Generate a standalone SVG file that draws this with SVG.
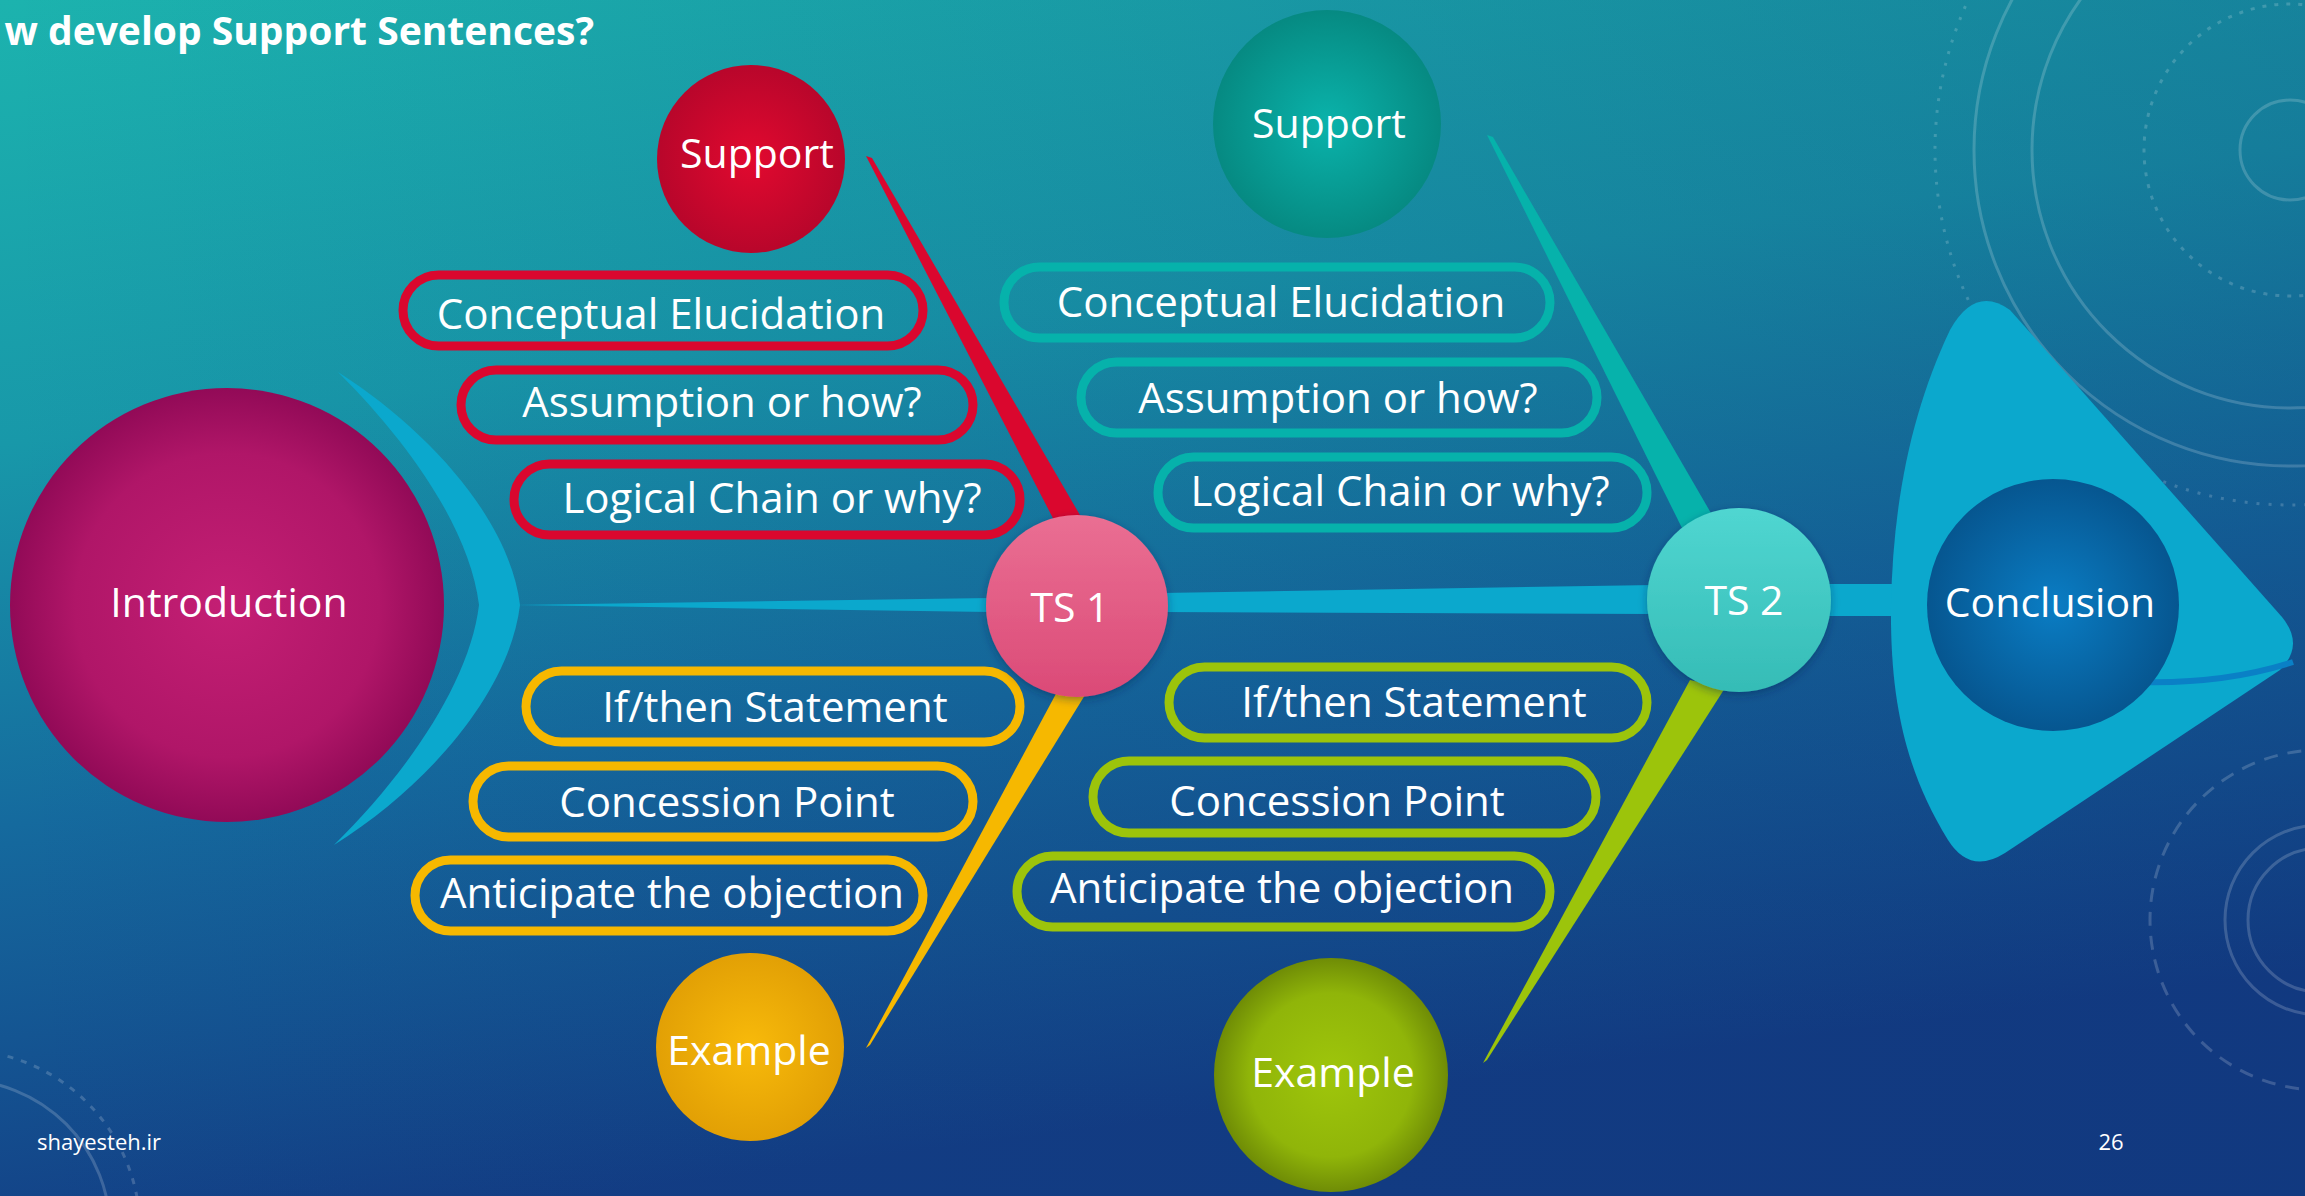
<svg xmlns="http://www.w3.org/2000/svg" width="2305" height="1196" viewBox="0 0 2305 1196">
<defs>
<linearGradient id="bg" x1="0" y1="0" x2="0.25" y2="1">
<stop offset="0" stop-color="#1cb3ae"/>
<stop offset="0.35" stop-color="#1898a9"/>
<stop offset="0.65" stop-color="#156a9e"/>
<stop offset="1" stop-color="#133e85"/>
</linearGradient>
<linearGradient id="bgR" x1="0" y1="0" x2="1" y2="0">
<stop offset="0" stop-color="#0c2a70" stop-opacity="0"/>
<stop offset="1" stop-color="#0c2a70" stop-opacity="0.25"/>
</linearGradient>
<radialGradient id="gIntro" cx="0.5" cy="0.5" r="0.5">
<stop offset="0" stop-color="#c41f74"/>
<stop offset="0.7" stop-color="#b01668"/>
<stop offset="1" stop-color="#920a57"/>
</radialGradient>
<radialGradient id="gRed" cx="0.5" cy="0.5" r="0.5">
<stop offset="0" stop-color="#e2092f"/>
<stop offset="1" stop-color="#b8062b"/>
</radialGradient>
<radialGradient id="gTeal" cx="0.5" cy="0.5" r="0.5">
<stop offset="0" stop-color="#0ab3ab"/>
<stop offset="1" stop-color="#068a82"/>
</radialGradient>
<radialGradient id="gYel" cx="0.5" cy="0.5" r="0.5">
<stop offset="0" stop-color="#f8ba0a"/>
<stop offset="1" stop-color="#e2a005"/>
</radialGradient>
<radialGradient id="gGrn" cx="0.5" cy="0.5" r="0.5">
<stop offset="0" stop-color="#9fc60b"/>
<stop offset="0.7" stop-color="#90b509"/>
<stop offset="1" stop-color="#6f8c06"/>
</radialGradient>
<radialGradient id="gCon" cx="0.5" cy="0.5" r="0.5">
<stop offset="0" stop-color="#0a7dc4"/>
<stop offset="1" stop-color="#065690"/>
</radialGradient>
<linearGradient id="gTS1" x1="0" y1="0" x2="0" y2="1">
<stop offset="0" stop-color="#ea6f93"/>
<stop offset="1" stop-color="#db4a77"/>
</linearGradient>
<linearGradient id="gTS2" x1="0" y1="0" x2="0" y2="1">
<stop offset="0" stop-color="#50d6d1"/>
<stop offset="1" stop-color="#35bcb6"/>
</linearGradient>
<filter id="sh" x="-20%" y="-20%" width="140%" height="140%">
<feDropShadow dx="0" dy="3" stdDeviation="4" flood-color="#0a2a50" flood-opacity="0.4"/>
</filter>
</defs>
<style>
.lbl{font-family:"Open Sans","Noto Sans","Liberation Sans",sans-serif;fill:#ffffff;text-anchor:middle}
.pt{font-size:42px}
.nt{font-size:41px}
.pill{fill:none;stroke-width:9}
.red{stroke:#da072e}
.yel{stroke:#f6b800}
.tea{stroke:#06b2ab}
.grn{stroke:#9cc40b}
.deco{fill:none;stroke:#ffffff;stroke-opacity:0.18;stroke-width:3}
.band{fill:#0ba8cd}
</style>

<rect x="0" y="0" width="2305" height="1196" fill="url(#bg)"/>
<rect x="0" y="0" width="2305" height="1196" fill="url(#bgR)"/>

<g id="background-decor">
<circle class="deco" cx="2290" cy="150" r="316"/>
<circle class="deco" cx="2290" cy="150" r="258"/>
<circle class="deco" cx="2290" cy="150" r="146" stroke-dasharray="4 8"/>
<circle class="deco" cx="2290" cy="150" r="50" stroke-width="6"/>
<circle class="deco" cx="2290" cy="150" r="355" stroke-dasharray="3 9" stroke-width="2"/>
<circle class="deco" cx="2320" cy="920" r="170" stroke-dasharray="14 10"/>
<circle class="deco" cx="2320" cy="920" r="95" stroke-width="6"/>
<circle class="deco" cx="2320" cy="920" r="72" stroke-width="5"/>
<circle class="deco" cx="-40" cy="1230" r="150" stroke-width="4"/>
<circle class="deco" cx="-40" cy="1230" r="180" stroke-width="2" stroke-dasharray="6 8"/>
</g>

<g id="connectors">
<path class="band" d="M338,372 C432,432 510,522 520,605 C510,690 430,785 334,845 C410,770 470,680 479,605 C470,532 414,448 338,372 Z"/>
<path class="band" d="M515,605 L990,598 L990,612 Z"/>
<path class="band" d="M1160,593 L1655,585 L1655,614 L1160,612 Z"/>
<rect class="band" x="1820" y="584" width="100" height="32"/>
<path fill="#da072e" d="M866,156 L872,158 L1084,522 L1058,528 Z"/>
<path fill="#06b2ab" d="M1487,135 L1493,137 L1715,520 L1682,528 Z"/>
<path fill="#f6b800" d="M1058,690 L1085,695 L870,1045 L866,1048 Z"/>
<path fill="#9cc40b" d="M1690,680 L1725,688 L1487,1060 L1483,1063 Z"/>
</g>

<g id="pills-red">
<g id="pill-conceptual-1"><rect class="pill red" x="403" y="275" width="520" height="71" rx="35.5"/><text class="lbl pt" x="661" y="329">Conceptual Elucidation</text></g>
<g id="pill-assumption-1"><rect class="pill red" x="461" y="370" width="512" height="70" rx="35"/><text class="lbl pt" x="722" y="417">Assumption or how?</text></g>
<g id="pill-logical-1"><rect class="pill red" x="514" y="464" width="506" height="71" rx="35.5"/><text class="lbl pt" x="772" y="513">Logical Chain or why?</text></g>
</g>
<g id="pills-yellow">
<g id="pill-ifthen-1"><rect class="pill yel" x="526" y="671" width="494" height="71" rx="35.5"/><text class="lbl pt" x="775" y="722">If/then Statement</text></g>
<g id="pill-concession-1"><rect class="pill yel" x="473" y="766" width="500" height="71" rx="35.5"/><text class="lbl pt" x="727" y="817">Concession Point</text></g>
<g id="pill-anticipate-1"><rect class="pill yel" x="415" y="860" width="508" height="71" rx="35.5"/><text class="lbl pt" x="672" y="908">Anticipate the objection</text></g>
</g>
<g id="pills-teal">
<g id="pill-conceptual-2"><rect class="pill tea" x="1004" y="267" width="546" height="71" rx="35.5"/><text class="lbl pt" x="1281" y="317">Conceptual Elucidation</text></g>
<g id="pill-assumption-2"><rect class="pill tea" x="1081" y="362" width="516" height="71" rx="35.5"/><text class="lbl pt" x="1338" y="413">Assumption or how?</text></g>
<g id="pill-logical-2"><rect class="pill tea" x="1158" y="457" width="489" height="71" rx="35.5"/><text class="lbl pt" x="1400" y="506">Logical Chain or why?</text></g>
</g>
<g id="pills-green">
<g id="pill-ifthen-2"><rect class="pill grn" x="1169" y="667" width="478" height="71" rx="35.5"/><text class="lbl pt" x="1414" y="717">If/then Statement</text></g>
<g id="pill-concession-2"><rect class="pill grn" x="1093" y="761" width="503" height="72" rx="36"/><text class="lbl pt" x="1337" y="816">Concession Point</text></g>
<g id="pill-anticipate-2"><rect class="pill grn" x="1017" y="856" width="533" height="71" rx="35.5"/><text class="lbl pt" x="1282" y="903">Anticipate the objection</text></g>
</g>

<g id="node-introduction"><circle cx="227" cy="605" r="217" fill="url(#gIntro)"/><text class="lbl nt" x="229" y="617">Introduction</text></g>
<g id="node-support-1"><circle cx="751" cy="159" r="94" fill="url(#gRed)"/><text class="lbl nt" x="757" y="168">Support</text></g>
<g id="node-support-2"><circle cx="1327" cy="124" r="114" fill="url(#gTeal)"/><text class="lbl nt" x="1329" y="138">Support</text></g>
<g id="node-ts1"><circle cx="1077" cy="606" r="91" fill="url(#gTS1)" filter="url(#sh)"/><text class="lbl nt" x="1070" y="622">TS 1</text></g>
<g id="node-ts2"><circle cx="1739" cy="600" r="92" fill="url(#gTS2)" filter="url(#sh)"/><text class="lbl nt" x="1744" y="615">TS 2</text></g>
<g id="node-example-1"><circle cx="750" cy="1047" r="94" fill="url(#gYel)"/><text class="lbl nt" x="749" y="1065">Example</text></g>
<g id="node-example-2"><circle cx="1331" cy="1075" r="117" fill="url(#gGrn)"/><text class="lbl nt" x="1333" y="1087">Example</text></g>
<g id="node-conclusion">
<path fill="#0ba8cd" d="M1950,330 Q1975,285 2010,310 L2282,617 Q2305,645 2280,670 L2005,853 Q1970,875 1948,840 C1905,770 1890,700 1891,605 C1893,500 1912,410 1950,330 Z"/>
<path fill="none" stroke="#0a80c6" stroke-width="6" d="M2140,682 Q2225,684 2293,662"/>
<circle cx="2053" cy="605" r="126" fill="url(#gCon)"/>
<text class="lbl nt" x="2050" y="617">Conclusion</text>
</g>

<g id="title"><text x="594" y="45" font-family="'Open Sans','Liberation Sans',sans-serif" font-weight="bold" font-size="39" fill="#ffffff" text-anchor="end">w develop Support Sentences?</text></g>
<g id="footer">
<text x="37" y="1150" font-family="'Open Sans','Liberation Sans',sans-serif" font-size="22" fill="#ffffff">shayesteh.ir</text>
<text x="2111" y="1150" font-family="'Open Sans','Liberation Sans',sans-serif" font-size="22" fill="#ffffff" text-anchor="middle">26</text>
</g>
</svg>
